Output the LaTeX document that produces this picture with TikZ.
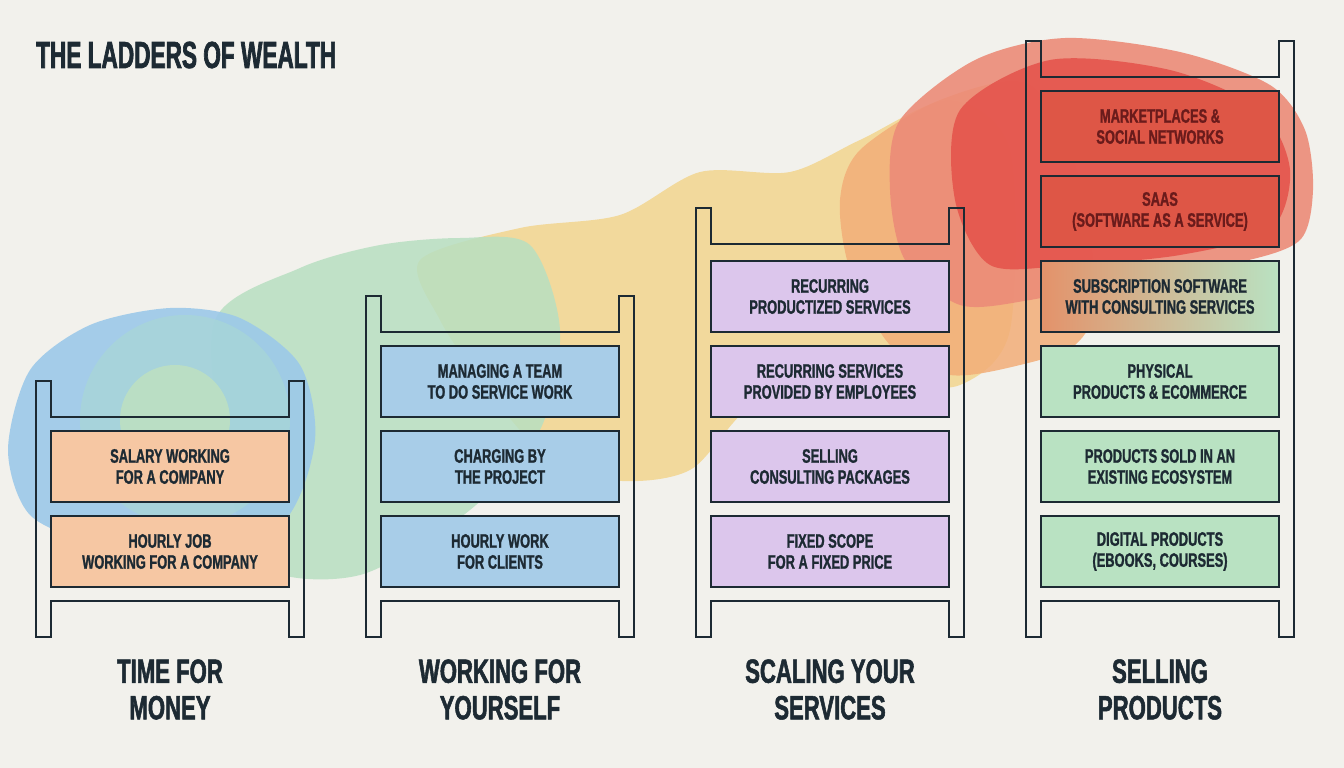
\documentclass[tikz,border=0pt]{standalone}
\usepackage{fontspec}
\usepackage{tikz}
\usepackage{xcolor}

\newfontfamily\ladderfam{Liberation Sans}[FakeStretch=0.66, FakeBold=1.2]
\newfontfamily\labelfam{Liberation Sans}[FakeStretch=0.66, FakeBold=1.6]
\newfontfamily\headfam{Liberation Sans}[FakeStretch=0.6, FakeBold=1.8]

\definecolor{ink}{HTML}{1D2A33}
\definecolor{paper}{HTML}{F2F1EC}
\definecolor{peach}{HTML}{F6C7A3}
\definecolor{skyblue}{HTML}{A8CDE8}
\definecolor{lilac}{HTML}{DCC6EC}
\definecolor{mint}{HTML}{B9E2C2}
\definecolor{redbox}{HTML}{DE5646}
\definecolor{redtext}{HTML}{6A1B1B}
\definecolor{subsorange}{HTML}{E4926A}
\definecolor{blobblue}{HTML}{9CC9E9}
\definecolor{blobteal}{HTML}{A9D9D3}
\definecolor{blobgreen}{HTML}{B8DFC1}
\definecolor{blobcore}{HTML}{C8E6B6}
\definecolor{blobyellow}{HTML}{F3D58E}
\definecolor{bloborange}{HTML}{F2AE78}
\definecolor{blobsalmon}{HTML}{EC8C78}
\definecolor{blobred}{HTML}{E4514A}

\begin{document}
\begin{tikzpicture}[x=1pt,y=-1pt,
    rail/.style={draw=ink, line width=2.6pt},
    stepbox/.style={draw=ink, line width=2.6pt, minimum width=238pt, minimum height=71pt,
        inner sep=0pt, align=center, text=ink,
        font=\ladderfam\bfseries\fontsize{19.5}{21}\selectfont},
    ladderlabel/.style={align=center, text=ink,
        font=\labelfam\bfseries\fontsize{33.5}{36.5}\selectfont}]

    % Paper
    \fill[paper] (0,0) rectangle (1344,768);
    \useasboundingbox (0,0) rectangle (1344,768);

    % Watercolour band
    \fill[blobyellow, opacity=.85] plot[smooth cycle] coordinates {(420,260) (520,228) (620,215) (700,172) (790,172) (860,140) (950,100) (1010,150) (1010,330) (960,385) (880,385) (760,400) (690,470) (610,480) (540,450) (480,380) (440,320)};
    \fill[blobgreen, opacity=.85] plot[smooth cycle] coordinates {(215,320) (300,268) (380,245) (460,238) (530,245) (560,330) (540,430) (470,510) (360,575) (260,565) (225,460)};
    \fill[blobblue, opacity=.9] plot[smooth cycle] coordinates {(8,450) (30,370) (90,325) (170,308) (240,318) (300,365) (315,440) (285,520) (200,560) (100,545) (30,515)};
    \fill[blobteal, opacity=.6] (185,420) circle (105);
    \fill[blobcore, opacity=.6] (175,420) circle (55);
    \fill[bloborange, opacity=.85] plot[smooth cycle] coordinates {(860,150) (940,100) (1030,85) (1080,180) (1095,300) (1075,345) (1020,365) (950,375) (890,345) (850,270) (840,200)};
    \fill[blobsalmon, opacity=.9] plot[smooth cycle] coordinates {(900,120) (975,60) (1065,38) (1180,52) (1270,85) (1305,130) (1313,190) (1300,240) (1240,262) (1120,280) (1030,300) (960,305) (905,260) (890,190)};
    \fill[blobred, opacity=.85] plot[smooth cycle] coordinates {(960,110) (1050,60) (1170,70) (1260,110) (1290,170) (1270,230) (1180,255) (1070,265) (990,265) (955,200)};

    % Ladders
    \foreach \c/\t in {170/381, 500/296, 830/208, 1160/41}
        \draw[rail] (\c-134,\t) -- (\c-119,\t) -- (\c-119,\t+36) -- (\c+119,\t+36) -- (\c+119,\t)
            -- (\c+134,\t) -- (\c+134,637) -- (\c+119,637) -- (\c+119,601) -- (\c-119,601)
            -- (\c-119,637) -- (\c-134,637) -- cycle;

    % Time for money
    \node[stepbox, fill=peach] (salary) at (170,466.5) {SALARY WORKING\\FOR A COMPANY};
    \node[stepbox, fill=peach] (hourlyjob) at (170,551.5) {HOURLY JOB\\WORKING FOR A COMPANY};

    % Working for yourself
    \node[stepbox, fill=skyblue] (managing) at (500,381.5) {MANAGING A TEAM\\TO DO SERVICE WORK};
    \node[stepbox, fill=skyblue] (charging) at (500,466.5) {CHARGING BY\\THE PROJECT};
    \node[stepbox, fill=skyblue] (hourlywork) at (500,551.5) {HOURLY WORK\\FOR CLIENTS};

    % Scaling your services
    \node[stepbox, fill=lilac] (recprod) at (830,296.5) {RECURRING\\PRODUCTIZED SERVICES};
    \node[stepbox, fill=lilac] (recemp) at (830,381.5) {RECURRING SERVICES\\PROVIDED BY EMPLOYEES};
    \node[stepbox, fill=lilac] (packages) at (830,466.5) {SELLING\\CONSULTING PACKAGES};
    \node[stepbox, fill=lilac] (fixedscope) at (830,551.5) {FIXED SCOPE\\FOR A FIXED PRICE};

    % Selling products
    \node[stepbox, fill=redbox, text=redtext] (marketplaces) at (1160,126.5) {MARKETPLACES \&\\SOCIAL NETWORKS};
    \node[stepbox, fill=redbox, text=redtext] (saas) at (1160,211.5) {SAAS\\(SOFTWARE AS A SERVICE)};
    \node[stepbox, left color=subsorange, right color=mint] (subscription) at (1160,296.5) {SUBSCRIPTION SOFTWARE\\WITH CONSULTING SERVICES};
    \node[stepbox, fill=mint] (physical) at (1160,381.5) {PHYSICAL\\PRODUCTS \& ECOMMERCE};
    \node[stepbox, fill=mint] (ecosystem) at (1160,466.5) {PRODUCTS SOLD IN AN\\EXISTING ECOSYSTEM};
    \node[stepbox, fill=mint] (digital) at (1160,551.5) {DIGITAL PRODUCTS\\(EBOOKS, COURSES)};

    % Titles
    \node[anchor=base west, text=ink, inner sep=0pt,
        font=\headfam\bfseries\fontsize{37.7}{40}\selectfont] (title) at (36,68) {THE LADDERS OF WEALTH};
    \node[ladderlabel] (timemoney) at (170,689.5) {TIME FOR\\MONEY};
    \node[ladderlabel] (yourself) at (500,689.5) {WORKING FOR\\YOURSELF};
    \node[ladderlabel] (scaling) at (830,689.5) {SCALING YOUR\\SERVICES};
    \node[ladderlabel] (products) at (1160,689.5) {SELLING\\PRODUCTS};
\end{tikzpicture}
\end{document}
